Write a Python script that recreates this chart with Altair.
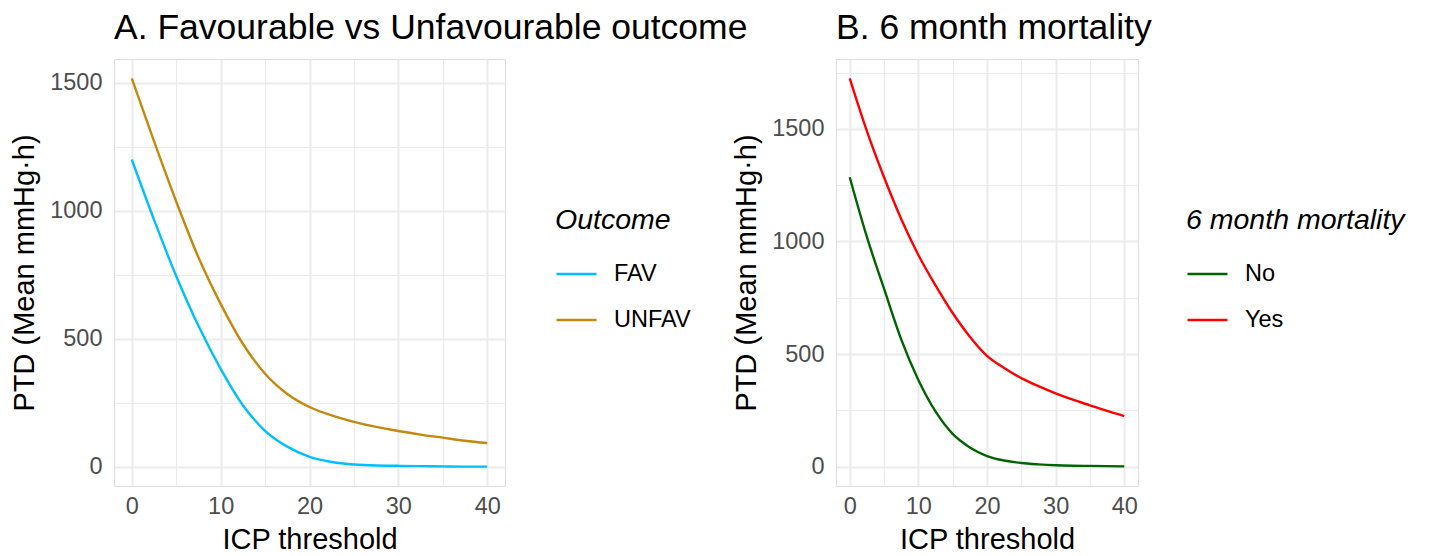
import altair as alt
import pandas as pd

# ICP thresholds at which the curves were read
icp = [0, 2.5, 5, 7.5, 10, 12.5, 15, 17.5, 20, 22.5, 25, 27.5, 30, 32.5, 35, 37.5, 40]

# Panel A: favourable vs unfavourable outcome (mean mmHg·h)
fav = [1200, 965, 745, 550, 382, 240, 140, 78, 38, 18, 8, 4, 3, 2, 1, 0, 0]
unfav = [1517, 1272, 1036, 818, 636, 480, 363, 284, 233, 200, 175, 155, 139, 125, 113, 101, 92]

# Panel B: 6 month mortality (mean mmHg·h)
mort_no = [1285, 1020, 790, 565, 385, 245, 145, 85, 47, 27, 16, 10, 6, 4, 3, 2, 1]
mort_yes = [1724, 1490, 1285, 1100, 940, 805, 682, 577, 492, 438, 393, 357, 325, 297, 272, 247, 224]

outcome_levels = ["FAV", "UNFAV"]
outcome_colors = ["#00BFFF", "#C4880C"]
mort_levels = ["No", "Yes"]
mort_colors = ["#006400", "#FF0000"]

x_ticks = [0, 5, 10, 15, 20, 25, 30, 35, 40]
y_ticks = [0, 250, 500, 750, 1000, 1250, 1500, 1750]

FONT = "Liberation Sans"

dfA = pd.DataFrame({
    "ICP": icp * 2,
    "PTD": fav + unfav,
    "Outcome": ["FAV"] * len(icp) + ["UNFAV"] * len(icp),
})
dfB = pd.DataFrame({
    "ICP": icp * 2,
    "PTD": mort_no + mort_yes,
    "6 month mortality": ["No"] * len(icp) + ["Yes"] * len(icp),
})


def grid_width(major_mod):
    return {"condition": {"test": f"datum.value % {major_mod} === 0", "value": 2}, "value": 1.1}


def panel(df, field, levels, colors, title, ydomain, width, height, lx, ly):
    x = alt.X(
        "ICP:Q",
        scale=alt.Scale(domain=[-2, 42], nice=False, zero=False),
        axis=alt.Axis(
            values=x_ticks,
            labelExpr="datum.value % 10 === 0 ? datum.label : ''",
            gridWidth=grid_width(10),
            gridColor="#EBEBEB",
            ticks=False,
            domain=False,
            labelFontSize=23.5,
            labelColor="#4D4D4D",
            labelPadding=8,
            titleFontSize=29,
            titleColor="black",
            titleFontWeight="normal",
            titlePadding=8,
        ),
        title="ICP threshold",
    )
    y = alt.Y(
        "PTD:Q",
        scale=alt.Scale(domain=ydomain, nice=False, zero=False),
        axis=alt.Axis(
            values=y_ticks,
            format="d",
            labelExpr="datum.value % 500 === 0 ? datum.label : ''",
            gridWidth=grid_width(500),
            gridColor="#EBEBEB",
            ticks=False,
            domain=False,
            labelFontSize=23.5,
            labelColor="#4D4D4D",
            labelPadding=12,
            titleFontSize=29,
            titleColor="black",
            titleFontWeight="normal",
            titlePadding=10,
        ),
        title="PTD (Mean mmHg·h)",
    )
    color = alt.Color(
        f"{field}:N",
        scale=alt.Scale(domain=levels, range=colors),
        legend=alt.Legend(
            title=field,
            orient="none",
            legendX=lx,
            legendY=ly,
            symbolType="stroke",
            symbolSize=1600,
            symbolStrokeWidth=2.5,
            titleFontSize=28.5,
            titleFontStyle="italic",
            titleFontWeight="normal",
            titleColor="black",
            titlePadding=18,
            titleLimit=500,
            labelFontSize=23.5,
            labelColor="black",
            labelOffset=16,
            labelLimit=300,
            rowPadding=13,
        ),
    )
    return (
        alt.Chart(df)
        .mark_line(strokeWidth=2.4, interpolate="monotone")
        .encode(x=x, y=y, color=color)
        .properties(
            width=width,
            height=height,
            title=alt.TitleParams(
                text=title,
                anchor="start",
                frame="group",
                fontSize=35.5,
                fontWeight="normal",
                color="black",
                baseline="alphabetic",
                offset=-15,
            ),
        )
    )


chartA = panel(dfA, "Outcome", outcome_levels, outcome_colors,
               "A. Favourable vs Unfavourable outcome",
               [-75.85, 1592.85], 391, 427, 441, 147)
chartB = panel(dfB, "6 month mortality", mort_levels, mort_colors,
               "B. 6 month mortality",
               [-86.2, 1810.2], 302, 427, 350, 147)

chart = (
    alt.hconcat(chartA, chartB, spacing=-16)
    .resolve_scale(color="independent", x="independent", y="independent")
    .resolve_legend(color="independent")
    .properties(padding={"left": 2, "top": 2, "right": 5, "bottom": 0})
    .configure(font=FONT)
    .configure_view(stroke=None)
    .configure(background="white")
)

chart.save("out.html", embed_options={"renderer": "svg", "actions": False})
